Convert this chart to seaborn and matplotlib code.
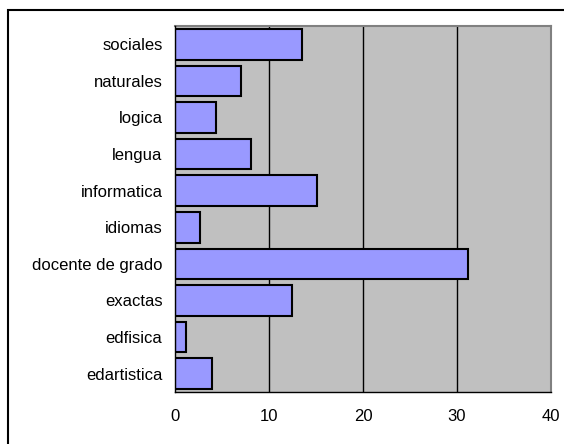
import matplotlib
matplotlib.use("Agg")
import matplotlib.pyplot as plt
import matplotlib.patches as mpatches
import seaborn as sns
import pandas as pd
import numpy as np

categorias = ["sociales", "naturales", "logica", "lengua", "informatica",
              "idiomas", "docente de grado", "exactas", "edfisica", "edartistica"]
valores = [13.5, 7.05, 4.35, 8.1, 15.15, 2.7, 31.2, 12.5, 1.2, 3.9]
x_ticks = [0, 10, 20, 30, 40]

df = pd.DataFrame({"categoria": categorias, "valor": valores})

sns.set_theme(style="white")
plt.rcParams["font.family"] = ["Liberation Sans", "DejaVu Sans"]

fig = plt.figure(figsize=(5.64, 4.44), dpi=100)
fig.patch.set_facecolor("white")
ax = fig.add_axes([175 / 564, 1 - 392 / 444, 376 / 564, 366 / 444])
ax.set_facecolor("#C0C0C0")

sns.barplot(data=df, x="valor", y="categoria", order=categorias, orient="h",
            color="#9999FF", edgecolor="black", linewidth=1.5, width=0.84,
            saturation=1, ax=ax, zorder=3)

ax.set_xlim(0, 40)
ax.set_ylim(len(categorias) - 0.5, -0.5)
ax.set_xticks(x_ticks)
ax.set_xticklabels([str(t) for t in x_ticks], fontsize=12, color="black")
ax.set_yticks(range(len(categorias)))
ax.set_yticklabels(categorias, fontsize=12, color="black")
ax.set_yticks(np.arange(-0.5, len(categorias)), minor=True)
ax.tick_params(axis="y", which="major", length=0, pad=9)
ax.tick_params(axis="y", which="minor", length=5, width=1, color="black", direction="out")
ax.tick_params(axis="x", which="major", length=5, width=1, color="black", direction="out", pad=7)
ax.set_xlabel("")
ax.set_ylabel("")

for v in x_ticks[1:-1]:
    ax.axvline(v, color="black", linewidth=1, zorder=1)

for s in ["left", "bottom"]:
    ax.spines[s].set_color("black")
    ax.spines[s].set_linewidth(1)
    ax.spines[s].set_zorder(5)
for s in ["top", "right"]:
    ax.spines[s].set_color("#808080")
    ax.spines[s].set_linewidth(1.5)

border = mpatches.Rectangle((8 / 564, -0.05), 1.1, 1 - 10 / 444 + 0.05,
                            transform=fig.transFigure, fill=False,
                            edgecolor="black", linewidth=1.5, clip_on=False)
fig.patches.append(border)

fig.savefig("out.png", dpi=100)
